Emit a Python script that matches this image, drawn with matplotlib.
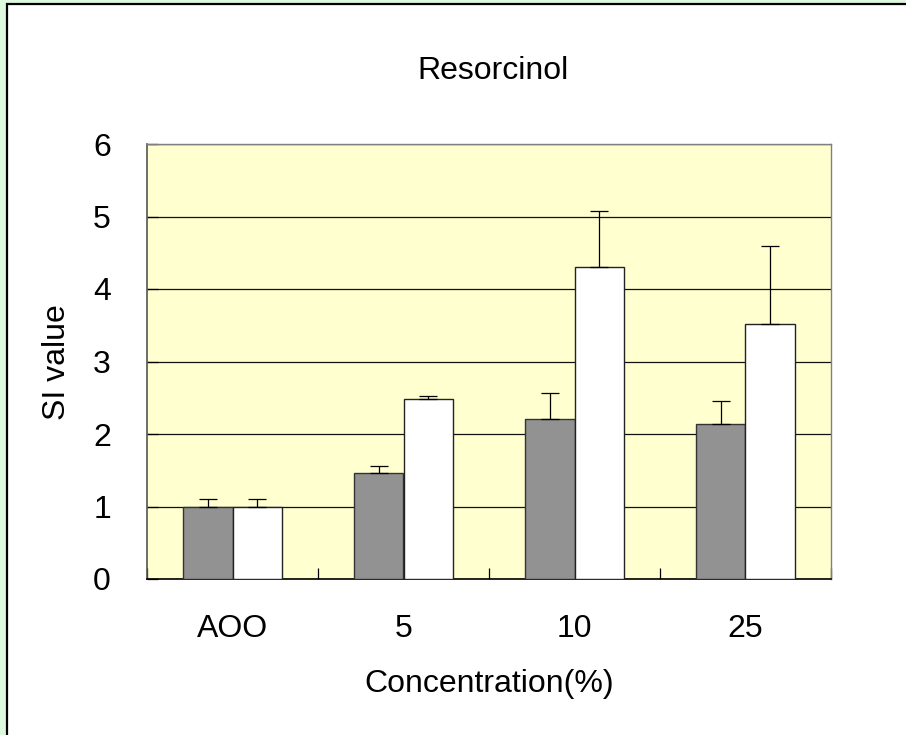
import matplotlib
matplotlib.use("Agg")
import matplotlib.pyplot as plt
import numpy as np
from matplotlib.patches import Rectangle

plt.rcParams['font.family'] = ['Liberation Sans', 'DejaVu Sans']

categories = ["AOO", "5", "10", "25"]
gray_values = [1.0, 1.46, 2.21, 2.14]
gray_err = [0.10, 0.10, 0.35, 0.31]
white_values = [1.0, 2.48, 4.31, 3.52]
white_err = [0.10, 0.04, 0.77, 1.07]
y_ticks = [0, 1, 2, 3, 4, 5, 6]

FS = 23
W, H, DPI = 906, 735, 100
fig = plt.figure(figsize=(W / DPI, H / DPI), dpi=DPI)
fig.patch.set_facecolor("#dff9df")

# chart frame: white panel with a black outline running off the right/bottom
frame = Rectangle((7 / W, -0.01), 1.02 - 7 / W, 1 - 4 / H + 0.01,
                  transform=fig.transFigure, facecolor="white",
                  edgecolor="black", linewidth=1.6, zorder=-5)
fig.patches.append(frame)

ax = fig.add_axes([147 / W, 1 - 579 / H, (831 - 147) / W, (579 - 144) / H])
ax.set_zorder(2)
ax.set_facecolor("#ffffd0")

x = np.arange(len(categories))
bw = 0.29
ax.bar(x - bw / 2, gray_values, bw, color="#929292", edgecolor="#333333",
       linewidth=1.0, zorder=3)
ax.bar(x + bw / 2, white_values, bw, color="white", edgecolor="#222222",
       linewidth=1.0, zorder=3)
ax.errorbar(x - bw / 2, gray_values, yerr=[np.zeros(4), gray_err], fmt="none",
            ecolor="black", elinewidth=0.9, capsize=6.5, capthick=0.9, zorder=4)
ax.errorbar(x + bw / 2, white_values, yerr=[np.zeros(4), white_err], fmt="none",
            ecolor="black", elinewidth=0.9, capsize=6.5, capthick=0.9, zorder=4)

ax.set_xlim(-0.5, len(categories) - 0.5)
ax.set_ylim(0, 6)
ax.set_yticks(y_ticks)
ax.set_yticklabels([str(t) for t in y_ticks], fontsize=FS)
ax.yaxis.grid(True, color="#111111", linewidth=0.9, zorder=1)
ax.set_axisbelow(True)

ax.set_xticks(x)
ax.set_xticklabels(categories, fontsize=FS)
ax.set_xticks(np.arange(-0.5, len(categories)), minor=True)
ax.tick_params(axis="x", which="major", length=0, pad=25.5)
ax.tick_params(axis="x", which="minor", direction="in", length=8, width=0.9,
               color="black")
ax.tick_params(axis="y", direction="in", length=8, width=0.9, pad=26,
               color="black")

for side in ("top", "right"):
    ax.spines[side].set_color("#808080")
    ax.spines[side].set_linewidth(1.0)
ax.spines["left"].set_color("#555555")
ax.spines["left"].set_linewidth(1.2)
ax.spines["bottom"].set_color("black")
ax.spines["bottom"].set_linewidth(1.2)

fig.text(493 / W, 1 - 71 / H, "Resorcinol", fontsize=FS, ha="center",
         va="center")
fig.text(489 / W, 1 - 684 / H, "Concentration(%)", fontsize=FS, ha="center",
         va="center")
fig.text(57 / W, 1 - 362 / H, "SI value", fontsize=FS, ha="center",
         va="center", rotation=90)

fig.savefig("out.png", dpi=DPI, facecolor=fig.get_facecolor())
